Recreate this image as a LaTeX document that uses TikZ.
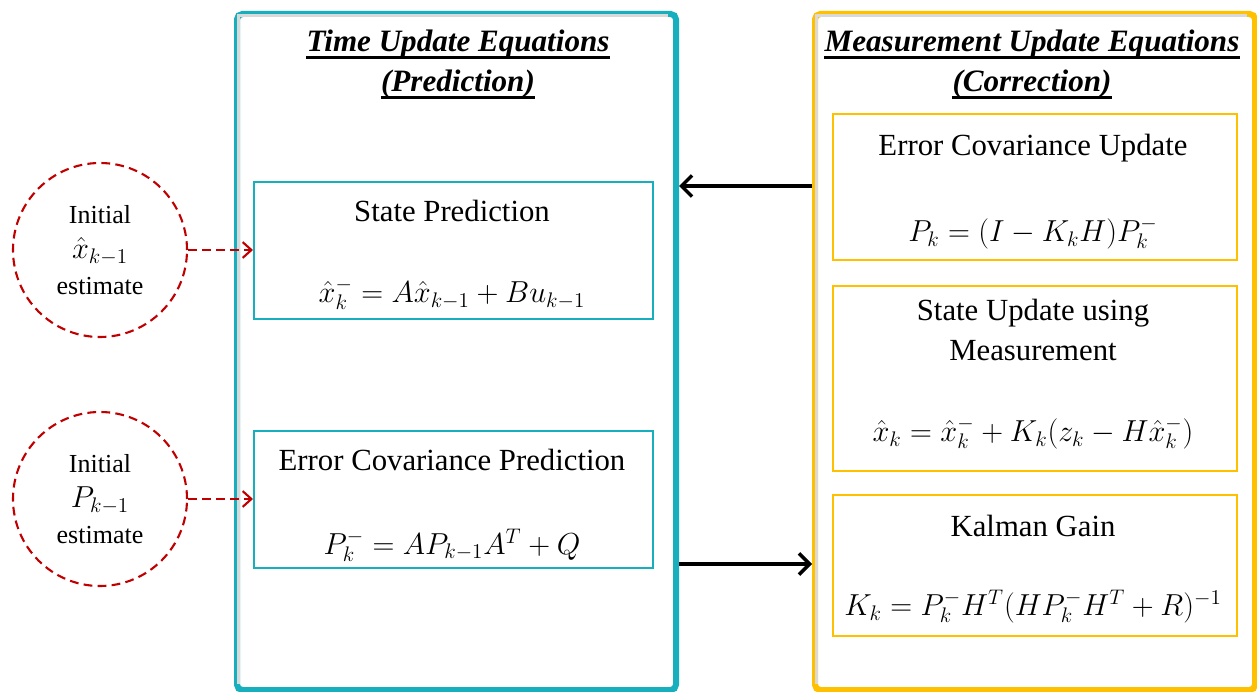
\documentclass[tikz,border=0pt]{standalone}
\usepackage{fontspec}
\setmainfont{Liberation Serif}
\usetikzlibrary{arrows.meta}
\definecolor{teal}{RGB}{23,175,190}
\definecolor{gold}{RGB}{255,192,0}
\definecolor{dred}{RGB}{192,0,0}
\begin{document}
\begin{tikzpicture}[x=0.02cm,y=-0.02cm,
  outer/.style={draw, line width=6*0.02cm, rounded corners=3pt},
  inner/.style={draw, line width=2*0.02cm},
  body/.style={font=\fontsize{17.5}{22}\selectfont, align=center, inner sep=0pt},
  eq/.style={font=\fontsize{18.5}{22}\selectfont, inner sep=0pt},
  ttl/.style={font=\fontsize{17.7}{22}\selectfont\bfseries\itshape, inner sep=0pt},
  uln/.style={line width=1.4pt},
  init/.style={draw=dred, dash pattern=on 5pt off 3pt, line width=1.2pt, circle, minimum size=174*0.02cm, inner sep=0pt, font=\fontsize{14.8}{20}\selectfont, align=center},
  dashar/.style={draw=dred, dash pattern=on 5pt off 3pt, line width=1.2pt, -{Straight Barb[length=5pt,width=9pt,line width=1.2pt]}},
  bigar/.style={line width=2pt, -{Straight Barb[length=6pt,width=12pt,line width=2pt]}}]
\useasboundingbox (0,0) rectangle (1257,692);
% outer boxes
\node[outer, draw=teal, minimum width=439*0.02cm, minimum height=676*0.02cm, anchor=north west] (L) at (234,11) {};
\node[outer, draw=gold, minimum width=440*0.02cm, minimum height=676*0.02cm, anchor=north west] (R) at (812,11) {};
% inner shadows
\draw[black!15, line width=3*0.02cm] (238.5,684) -- (238.5,15.5) -- (668,15.5);
\draw[black!15, line width=3*0.02cm] (816.5,684) -- (816.5,15.5) -- (1247,15.5);
% titles
\node[ttl, anchor=base] (t1a) at (458,52) {Time Update Equations};
\node[ttl, anchor=base] (t1b) at (458,92) {(Prediction)};
\node[ttl, anchor=base] (t2a) at (1032,52) {Measurement Update Equations};
\node[ttl, anchor=base] (t2b) at (1032,92) {(Correction)};
\foreach \t in {t1a,t1b,t2a,t2b}
  \draw[uln] ([yshift=-3.2pt]\t.base west) -- ([yshift=-3.2pt]\t.base east);
% left inner boxes
\node[inner, draw=teal, minimum width=399*0.02cm, minimum height=137*0.02cm, anchor=north west] (SP) at (253,181) {};
\node[body] (SPt) at (452,211) {State Prediction};
\node[eq] (SPe) at (452,294) {$\hat{x}_k^- = A\hat{x}_{k-1} + Bu_{k-1}$};
\node[inner, draw=teal, minimum width=399*0.02cm, minimum height=137*0.02cm, anchor=north west] (EP) at (253,430) {};
\node[body] (EPt) at (452,460) {Error Covariance Prediction};
\node[eq] (EPe) at (452,545) {$P_k^- = AP_{k-1}A^T + Q$};
% right inner boxes
\node[inner, draw=gold, minimum width=404*0.02cm, minimum height=146*0.02cm, anchor=north west] (EU) at (832,113) {};
\node[body] (EUt) at (1033,148) {Error Covariance Update};
\node[eq] (EUe) at (1033,233) {$P_k = (I - K_kH)P_k^-$};
\node[inner, draw=gold, minimum width=404*0.02cm, minimum height=185*0.02cm, anchor=north west] (SU) at (832,285) {};
\node[body, font=\fontsize{17.5}{23}\selectfont] (SUt) at (1033,330) {State Update using\\Measurement};
\node[eq] (SUe) at (1033,433) {$\hat{x}_k = \hat{x}_k^- + K_k(z_k - H\hat{x}_k^-)$};
\node[inner, draw=gold, minimum width=404*0.02cm, minimum height=141*0.02cm, anchor=north west] (KG) at (832,494) {};
\node[body] (KGt) at (1033,526) {Kalman Gain};
\node[eq] (KGe) at (1033,607) {$K_k = P_k^-H^T(HP_k^-H^T + R)^{-1}$};
% initial estimate circles
\node[init] (C1) at (100,250) {Initial\\{\fontsize{18.5}{20}\selectfont$\hat{x}_{k-1}$}\\estimate};
\node[init] (C2) at (100,499) {Initial\\{\fontsize{18.5}{20}\selectfont$P_{k-1}$}\\estimate};
\draw[dashar] (C1.east) -- (SP.west |- C1.east);
\draw[dashar] (C2.east) -- (EP.west |- C2.east);
% main arrows
\coordinate (a1) at (0,186);
\coordinate (a2) at (0,564);
\draw[bigar] (R.west |- a1) -- (L.east |- a1);
\draw[bigar] (L.east |- a2) -- (R.west |- a2);
\end{tikzpicture}
\end{document}
